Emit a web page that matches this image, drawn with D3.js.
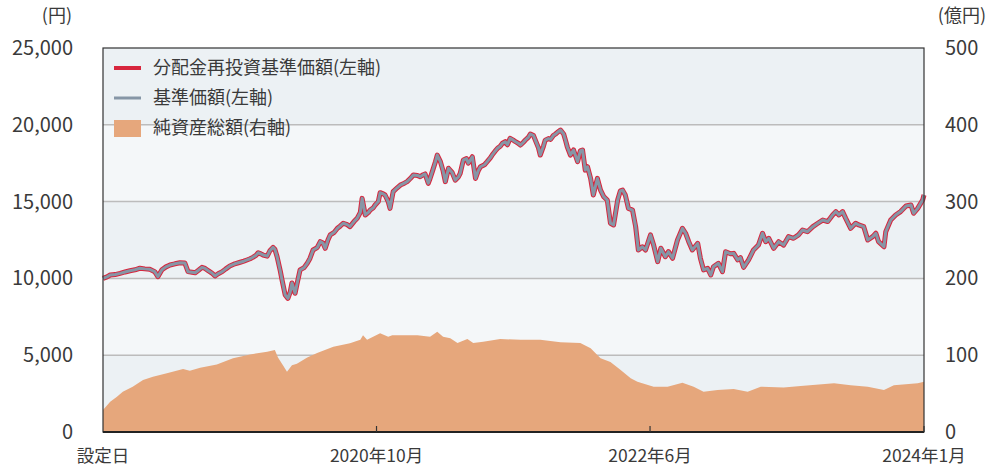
<!DOCTYPE html>
<html>
<head>
<meta charset="utf-8">
<script src="https://cdn.jsdelivr.net/npm/d3@7"></script>
<style>
  body { margin: 0; background: #fff; }
  #chart { width: 986px; height: 469px; }
  text { font-family: "Noto Sans CJK JP", "Noto Sans", sans-serif; fill: #3a3a3a; }
</style>
</head>
<body>
<div id="chart"></div>
<script>
// 基準価額 (円) - 分配金なしのため分配金再投資基準価額と同じ
var navData = [
  ["2019-02-01",10000],["2019-02-10",10100],["2019-02-17",10220],["2019-02-28",10250],["2019-03-11",10330],
  ["2019-03-22",10420],["2019-04-02",10500],["2019-04-13",10560],["2019-04-24",10660],["2019-05-05",10620],
  ["2019-05-16",10590],["2019-05-27",10440],["2019-06-03",10110],["2019-06-12",10560],["2019-06-21",10750],
  ["2019-06-30",10870],["2019-07-11",10950],["2019-07-22",11020],["2019-08-02",11000],["2019-08-09",10440],
  ["2019-08-18",10400],["2019-08-25",10370],["2019-09-02",10550],["2019-09-09",10720],["2019-09-16",10650],
  ["2019-09-23",10500],["2019-10-01",10350],["2019-10-08",10160],["2019-10-15",10300],["2019-10-24",10440],
  ["2019-11-01",10620],["2019-11-10",10810],["2019-11-21",10950],["2019-12-03",11050],["2019-12-11",11120],
  ["2019-12-18",11200],["2019-12-25",11280],["2019-12-31",11370],["2020-01-07",11500],["2020-01-12",11670],
  ["2020-01-18",11600],["2020-01-23",11520],["2020-02-01",11450],["2020-02-07",11800],["2020-02-14",12020],
  ["2020-02-18",11900],["2020-02-23",11410],["2020-03-01",10500],["2020-03-05",9900],["2020-03-12",8920],
  ["2020-03-18",8700],["2020-03-23",9100],["2020-03-27",9700],["2020-04-03",9030],["2020-04-07",9600],
  ["2020-04-14",10550],["2020-04-23",10700],["2020-04-30",10980],["2020-05-06",11300],["2020-05-13",11850],
  ["2020-05-22",12000],["2020-05-29",12390],["2020-06-04",12300],["2020-06-09",11960],["2020-06-15",12500],
  ["2020-06-20",12830],["2020-06-29",13000],["2020-07-06",13260],["2020-07-12",13400],["2020-07-19",13590],
  ["2020-07-28",13500],["2020-08-03",13370],["2020-08-12",13700],["2020-08-19",13910],["2020-08-26",14300],
  ["2020-08-30",15210],["2020-09-06",14130],["2020-09-13",14300],["2020-09-17",14450],["2020-09-24",14600],
  ["2020-09-28",14780],["2020-10-05",15000],["2020-10-09",15580],["2020-10-16",15500],["2020-10-20",15430],
  ["2020-10-27",15000],["2020-10-31",14560],["2020-11-07",15650],["2020-11-16",15900],["2020-11-23",16080],
  ["2020-12-02",16200],["2020-12-08",16300],["2020-12-15",16500],["2020-12-22",16730],["2020-12-31",16700],
  ["2021-01-06",16620],["2021-01-13",16750],["2021-01-17",16800],["2021-01-24",16190],["2021-01-28",16500],
  ["2021-02-02",16950],["2021-02-09",17600],["2021-02-13",18030],["2021-02-20",17600],["2021-02-26",17000],
  ["2021-03-03",16300],["2021-03-10",17170],["2021-03-18",16900],["2021-03-25",16400],["2021-04-01",16600],
  ["2021-04-05",16840],["2021-04-12",17710],["2021-04-19",17800],["2021-04-23",17500],["2021-05-02",17920],
  ["2021-05-09",16510],["2021-05-15",17000],["2021-05-20",17270],["2021-05-29",17400],["2021-06-04",17600],
  ["2021-06-11",17850],["2021-06-15",18030],["2021-06-22",18300],["2021-06-27",18470],["2021-07-03",18600],
  ["2021-07-08",18800],["2021-07-14",18900],["2021-07-19",18700],["2021-07-25",19120],["2021-08-01",19000],
  ["2021-08-06",18900],["2021-08-12",18800],["2021-08-17",18680],["2021-08-23",18850],["2021-08-28",19010],
  ["2021-09-04",19200],["2021-09-08",19400],["2021-09-15",19300],["2021-09-19",19000],["2021-09-26",18500],
  ["2021-09-30",18030],["2021-10-07",18600],["2021-10-11",19000],["2021-10-18",19100],["2021-10-23",19050],
  ["2021-10-29",19300],["2021-11-03",19400],["2021-11-09",19550],["2021-11-14",19660],["2021-11-21",19400],
  ["2021-11-25",19000],["2021-11-29",18570],["2021-12-06",18030],["2021-12-13",18360],["2021-12-22",17600],
  ["2021-12-28",18300],["2022-01-02",18360],["2022-01-08",17050],["2022-01-13",17270],["2022-01-20",16500],
  ["2022-01-26",15430],["2022-02-04",16510],["2022-02-11",15750],["2022-02-18",15320],["2022-02-26",15100],
  ["2022-03-05",13590],["2022-03-12",13480],["2022-03-21",15100],["2022-03-27",15700],["2022-04-01",15750],
  ["2022-04-07",15430],["2022-04-14",14560],["2022-04-23",14450],["2022-04-30",13370],["2022-05-06",11850],
  ["2022-05-15",12060],["2022-05-22",11850],["2022-06-02",12830],["2022-06-09",12170],["2022-06-18",11090],
  ["2022-06-25",11960],["2022-07-05",11410],["2022-07-12",11740],["2022-07-21",11310],["2022-08-01",12500],
  ["2022-08-12",13260],["2022-08-19",12940],["2022-08-26",12390],["2022-09-03",11850],["2022-09-15",12280],
  ["2022-09-21",11310],["2022-09-28",10550],["2022-10-07",10650],["2022-10-14",10220],["2022-10-20",10760],
  ["2022-10-31",10980],["2022-11-09",10440],["2022-11-16",11740],["2022-11-27",11600],["2022-12-04",11630],
  ["2022-12-13",11200],["2022-12-19",11350],["2022-12-26",10720],["2023-01-06",11200],["2023-01-17",11850],
  ["2023-01-28",12170],["2023-02-06",12940],["2023-02-13",12390],["2023-02-20",12610],["2023-03-03",11960],
  ["2023-03-14",12390],["2023-03-25",12170],["2023-04-05",12720],["2023-04-16",12610],["2023-04-27",12830],
  ["2023-05-06",13150],["2023-05-17",13040],["2023-05-29",13370],["2023-06-09",13590],["2023-06-20",13800],
  ["2023-07-01",13700],["2023-07-12",14130],["2023-07-19",14350],["2023-07-26",14130],["2023-08-03",14350],
  ["2023-08-10",13910],["2023-08-21",13260],["2023-09-01",13590],["2023-09-08",13480],["2023-09-19",13370],
  ["2023-09-28",12500],["2023-10-09",12720],["2023-10-16",12940],["2023-10-22",12390],["2023-11-03",12060],
  ["2023-11-07",13040],["2023-11-18",13800],["2023-11-29",14130],["2023-12-10",14350],["2023-12-22",14710],
  ["2024-01-02",14780],["2024-01-08",14240],["2024-01-17",14560],["2024-01-28",15100],["2024-01-31",15430]
];
var navReinvData = navData;

// 純資産総額 (億円)
var aumData = [
  ["2019-02-01",28.6],["2019-02-17",39.5],["2019-03-04",46],["2019-03-17",52.5],["2019-04-08",59],
  ["2019-05-01",67.7],["2019-05-23",72],["2019-06-23",76.4],["2019-07-29",82],["2019-08-13",79.8],
  ["2019-09-05",83.7],["2019-10-12",88],["2019-11-17",96],["2019-12-25",101],["2020-02-01",104.5],
  ["2020-02-18",106.8],["2020-02-25",97],["2020-03-07",87],["2020-03-16",78.5],["2020-03-27",87],
  ["2020-04-07",89],["2020-04-30",97],["2020-05-22",103],["2020-06-27",111],["2020-08-03",115.5],
  ["2020-08-26",120],["2020-09-01",126],["2020-09-10",120],["2020-10-09",128.5],["2020-10-27",124],
  ["2020-11-05",126],["2020-12-08",126],["2020-12-31",126],["2021-01-28",124],["2021-02-13",130.6],
  ["2021-02-26",124],["2021-03-14",122],["2021-03-30",116],["2021-04-21",121],["2021-05-04",116],
  ["2021-05-26",117.6],["2021-07-03",121],["2021-08-17",120],["2021-09-30",120],["2021-11-14",117],
  ["2021-12-28",116],["2022-01-20",109],["2022-02-11",96],["2022-03-05",91],["2022-03-27",81],
  ["2022-04-19",70],["2022-05-04",65.5],["2022-06-09",59],["2022-07-10",59],["2022-08-12",64],
  ["2022-09-06",59],["2022-09-28",52.5],["2022-10-29",54.7],["2022-12-04",56],["2023-01-04",52.5],
  ["2023-02-02",59],["2023-03-25",58],["2023-05-02",60],["2023-07-15",63.4],["2023-08-21",61],
  ["2023-09-28",59],["2023-11-03",54.7],["2023-11-25",61],["2024-01-17",63.4],["2024-01-31",65.5]
];

var leftTicks = [0, 5000, 10000, 15000, 20000, 25000];
var rightTicks = [0, 100, 200, 300, 400, 500];
var xTicks = [["2019-02-01","設定日"],["2020-10-01","2020年10月"],["2022-06-01","2022年6月"],["2024-01-31","2024年1月"]];
var legendItems = [
  {name: "分配金再投資基準価額(左軸)", kind: "line", color: "#d7263d", width: 4},
  {name: "基準価額(左軸)", kind: "line", color: "#8696a6", width: 3},
  {name: "純資産総額(右軸)", kind: "rect", color: "#e6a77c"}
];

var parse = d3.timeParse("%Y-%m-%d");
var W = 986, H = 469;
var margin = {top: 48, right: 62, bottom: 37, left: 103};

var svg = d3.select("#chart").append("svg")
  .attr("width", W)
  .attr("height", H);

var x = d3.scaleTime()
  .domain([parse("2019-02-01"), parse("2024-01-31")])
  .range([margin.left, W - margin.right]);
var yL = d3.scaleLinear()
  .domain([0, 25000])
  .range([H - margin.bottom, margin.top]);
var yR = d3.scaleLinear()
  .domain([0, 500])
  .range([H - margin.bottom, margin.top]);

// background bands
svg.append("g").selectAll("rect")
  .data(d3.pairs(leftTicks))
  .join("rect")
    .attr("x", margin.left)
    .attr("width", W - margin.right - margin.left)
    .attr("y", d => yL(d[1]))
    .attr("height", d => yL(d[0]) - yL(d[1]))
    .attr("fill", (d, i) => i % 2 == 0 ? "#ecf1f4" : "#f4f7f9");

// gridlines
svg.append("g").selectAll("line")
  .data(leftTicks.slice(1, -1))
  .join("line")
    .attr("x1", margin.left)
    .attr("x2", W - margin.right)
    .attr("y1", d => yL(d))
    .attr("y2", d => yL(d))
    .attr("stroke", "#bcbcbc")
    .attr("stroke-width", 1.5);

// area
var areaGen = d3.area()
  .x(d => x(parse(d[0])))
  .y0(yR(0))
  .y1(d => yR(d[1]));
svg.append("path")
  .attr("d", areaGen(aumData))
  .attr("fill", "#e6a77c");

// lines
var lineGen = d3.line()
  .x(d => x(parse(d[0])))
  .y(d => yL(d[1]));
svg.append("path")
  .attr("d", lineGen(navReinvData))
  .attr("fill", "none")
  .attr("stroke", "#d7263d")
  .attr("stroke-width", 5)
  .attr("stroke-linejoin", "round");
svg.append("path")
  .attr("d", lineGen(navData))
  .attr("fill", "none")
  .attr("stroke", "#8696a6")
  .attr("stroke-width", 3)
  .attr("stroke-linejoin", "round");

// frame
svg.append("rect")
  .attr("x", margin.left)
  .attr("y", margin.top)
  .attr("width", W - margin.right - margin.left)
  .attr("height", H - margin.bottom - margin.top)
  .attr("fill", "none")
  .attr("stroke", "#333")
  .attr("stroke-width", 1.2);
svg.append("line")
  .attr("x1", margin.left)
  .attr("x2", W - margin.right)
  .attr("y1", H - margin.bottom)
  .attr("y2", H - margin.bottom)
  .attr("stroke", "#222")
  .attr("stroke-width", 2);

// axes
svg.append("g").selectAll("text")
  .data(leftTicks)
  .join("text")
    .attr("x", 73)
    .attr("y", d => yL(d))
    .attr("dy", "0.35em")
    .attr("text-anchor", "end")
    .attr("font-size", 20)
    .text(d => d3.format(",")(d));
svg.append("g").selectAll("text")
  .data(rightTicks)
  .join("text")
    .attr("x", 945)
    .attr("y", d => yR(d))
    .attr("dy", "0.35em")
    .attr("font-size", 20)
    .text(d => d);
svg.append("text")
  .attr("x", 72).attr("y", 22)
  .attr("text-anchor", "end")
  .attr("font-size", 18)
  .text("(円)");
svg.append("text")
  .attr("x", 986).attr("y", 22)
  .attr("text-anchor", "end")
  .attr("font-size", 18)
  .text("(億円)");

var xg = svg.append("g").selectAll("g")
  .data(xTicks)
  .join("g")
    .attr("transform", d => "translate(" + x(parse(d[0])) + "," + (H - margin.bottom) + ")");
xg.filter((d, i) => i > 0).append("line")
  .attr("y1", 0).attr("y2", -6)
  .attr("stroke", "#333")
  .attr("stroke-width", 1.2);
xg.append("text")
  .attr("y", 30)
  .attr("text-anchor", "middle")
  .attr("font-size", 17.5)
  .text(d => d[1]);

// legend
var lg = svg.append("g").selectAll("g")
  .data(legendItems)
  .join("g")
    .attr("transform", (d, i) => "translate(114," + (68 + i * 30) + ")");
lg.filter(d => d.kind == "line").append("line")
  .attr("x1", 0).attr("x2", 27)
  .attr("stroke", d => d.color)
  .attr("stroke-width", d => d.width);
lg.filter(d => d.kind == "rect").append("rect")
  .attr("x", 0).attr("y", -8)
  .attr("width", 27).attr("height", 17)
  .attr("fill", d => d.color);
lg.append("text")
  .attr("x", 39)
  .attr("dy", "0.35em")
  .attr("font-size", 18)
  .text(d => d.name);
</script>
</body>
</html>
